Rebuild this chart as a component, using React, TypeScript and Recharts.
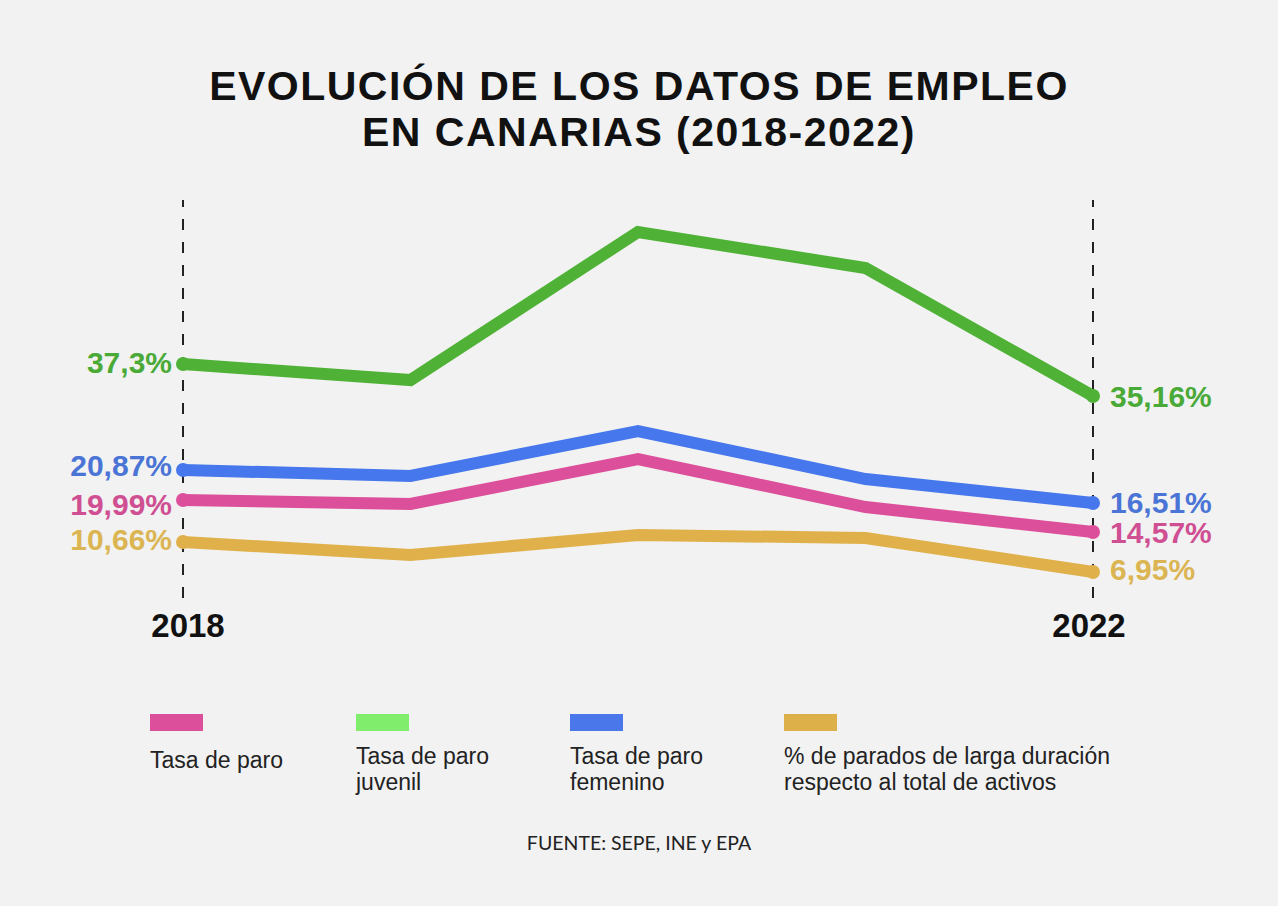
import React from 'react';
import { LineChart, Line, XAxis, YAxis, ReferenceLine, LabelList } from 'recharts';

const years = ['2018', '2019', '2020', '2021', '2022'];
const tasaParo = [19.99, 19.31, 26.93, 18.8, 14.57];
const tasaJuvenil = [37.3, 36.23, 46.13, 43.72, 35.16];
const tasaFemenino = [20.87, 20.08, 26.02, 19.68, 16.51];
const paradosLarga = [10.66, 9.05, 11.53, 11.15, 6.95];

const legendItems = [
  { label: ['Tasa de paro'], color: '#dc4f9a' },
  { label: ['Tasa de paro', 'juvenil'], color: '#80ee6c' },
  { label: ['Tasa de paro', 'femenino'], color: '#4a78ea' },
  { label: ['% de parados de larga duración', 'respecto al total de activos'], color: '#ddb04a' },
];

const data = years.map((year, i) => ({
  year,
  paro: tasaParo[i],
  juvenil: tasaJuvenil[i],
  femenino: tasaFemenino[i],
  larga: paradosLarga[i],
}));

const fmt = (v: number) => `${String(v).replace('.', ',')}%`;

// end labels only on the first and last year
const makeLabel = (color: string, dyLeft: number, dyRight: number) => (props: any) => {
  const { x, y, value, index } = props;
  if (index !== 0 && index !== years.length - 1) return null;
  const left = index === 0;
  return (
    <text
      x={left ? x - 11 : x + 17}
      y={y + (left ? dyLeft : dyRight)}
      textAnchor={left ? 'end' : 'start'}
      dominantBaseline="central"
      fill={color}
      fontSize={30}
      fontWeight={700}
      fontFamily="'Liberation Sans', Arial, sans-serif"
    >
      {fmt(value)}
    </text>
  );
};

const endDot = (color: string) => (props: any) => {
  const { cx, cy, index } = props;
  if (index !== 0 && index !== years.length - 1) return <g key={`d-${index}`} />;
  return <circle key={`d-${index}`} cx={cx} cy={cy} r={7} fill={color} />;
};

const YearTick = (props: any) => {
  const { x, y, payload, index } = props;
  if (index !== 0 && index !== years.length - 1) return <g />;
  return (
    <text
      x={x + (index === 0 ? 5 : -4)}
      y={y}
      dy={39}
      textAnchor="middle"
      fill="#111"
      fontSize={33}
      fontWeight={700}
      fontFamily="'Liberation Sans', Arial, sans-serif"
    >
      {payload.value}
    </text>
  );
};

const App: React.FC = () => {
  return (
    <div
      style={{
        position: 'absolute',
        left: 0,
        top: 0,
        width: 1278,
        height: 906,
        background: '#f2f2f2',
        fontFamily: "'Liberation Sans', Arial, sans-serif",
        overflow: 'hidden',
      }}
    >
      <div
        style={{
          position: 'absolute',
          top: 63,
          left: 0,
          width: 1278,
          textAlign: 'center',
          fontSize: 41,
          letterSpacing: 1.5,
          lineHeight: '46px',
          fontWeight: 700,
          color: '#111',
        }}
      >
        <div>EVOLUCIÓN DE LOS DATOS DE EMPLEO</div>
        <div>EN CANARIAS (2018-2022)</div>
      </div>

      <div style={{ position: 'absolute', left: 0, top: 0 }}>
        <LineChart width={1278} height={660} data={data} margin={{ top: 200, right: 185, bottom: 12, left: 183 }}>
          <XAxis
            dataKey="year"
            axisLine={false}
            tickLine={false}
            tickSize={0}
            tickMargin={0}
            height={50}
            interval={0}
            tick={<YearTick />}
          />
          <YAxis yAxisId="juvenil" hide type="number" domain={[21.65, 48.27]} allowDataOverflow />
          <YAxis yAxisId="femenino" hide type="number" domain={[3.96, 56.54]} allowDataOverflow />
          <YAxis yAxisId="paro" hide type="number" domain={[3.39, 70.8]} allowDataOverflow />
          <YAxis yAxisId="larga" hide type="number" domain={[3.73, 52.96]} allowDataOverflow />
          <ReferenceLine yAxisId="juvenil" x="2018" stroke="#222" strokeWidth={2} strokeDasharray="11 12" />
          <ReferenceLine yAxisId="juvenil" x="2022" stroke="#222" strokeWidth={2} strokeDasharray="11 12" />
          <Line
            yAxisId="juvenil"
            dataKey="juvenil"
            stroke="#4fb236"
            strokeWidth={12}
            dot={endDot('#4fb236')}
            activeDot={false}
            isAnimationActive={false}
          >
            <LabelList dataKey="juvenil" content={makeLabel('#4aaa38', -2, 0)} />
          </Line>
          <Line
            yAxisId="femenino"
            dataKey="femenino"
            stroke="#4677ec"
            strokeWidth={12}
            dot={endDot('#4677ec')}
            activeDot={false}
            isAnimationActive={false}
          >
            <LabelList dataKey="femenino" content={makeLabel('#4a74d6', -5, -1)} />
          </Line>
          <Line
            yAxisId="paro"
            dataKey="paro"
            stroke="#dc4f9a"
            strokeWidth={12}
            dot={endDot('#dc4f9a')}
            activeDot={false}
            isAnimationActive={false}
          >
            <LabelList dataKey="paro" content={makeLabel('#cf4f92', 5, 1)} />
          </Line>
          <Line
            yAxisId="larga"
            dataKey="larga"
            stroke="#e0b14a"
            strokeWidth={12}
            dot={endDot('#e0b14a')}
            activeDot={false}
            isAnimationActive={false}
          >
            <LabelList dataKey="larga" content={makeLabel('#dbb552', -2, -2)} />
          </Line>
        </LineChart>
      </div>

      {legendItems.map((item, i) => {
        const lefts = [150, 356, 570, 784];
        return (
          <div key={item.label[0] + i} style={{ position: 'absolute', left: lefts[i], top: 714 }}>
            <div style={{ width: 53, height: 17, background: item.color }} />
            <div
              style={{
                marginTop: item.label.length === 1 ? 16 : 12,
                fontSize: 23,
                lineHeight: '26px',
                color: '#222',
                whiteSpace: 'nowrap',
              }}
            >
              {item.label.map((l) => (
                <div key={l}>{l}</div>
              ))}
            </div>
          </div>
        );
      })}

      <div
        style={{
          position: 'absolute',
          top: 832,
          left: 0,
          width: 1278,
          textAlign: 'center',
          fontFamily: 'Lato, sans-serif',
          fontSize: 19.5,
          lineHeight: '22px',
          color: '#222',
        }}
      >
        FUENTE: SEPE, INE y EPA
      </div>
    </div>
  );
};

export default App;
